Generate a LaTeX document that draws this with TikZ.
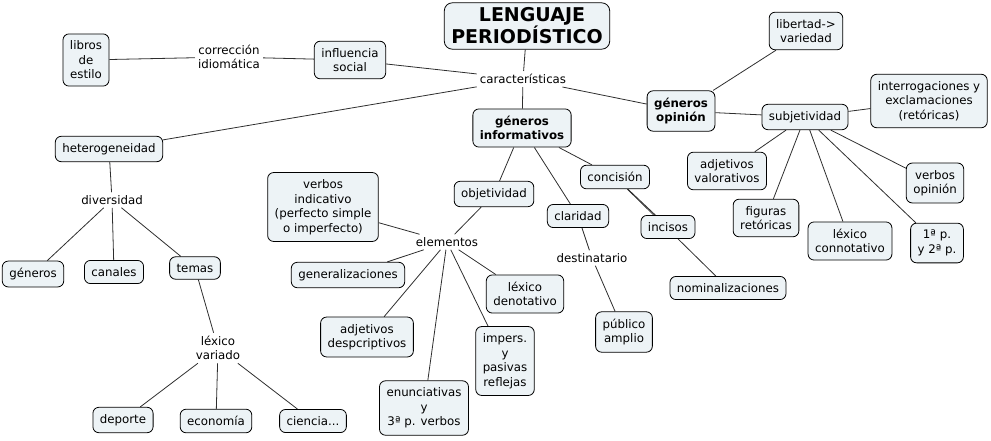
\documentclass[tikz,border=0pt]{standalone}
\usepackage{fontspec}
\setmainfont{DejaVu Sans}
\usetikzlibrary{positioning,backgrounds}
\definecolor{boxfill}{HTML}{EDF3F6}
\definecolor{linea}{HTML}{2E2E2E}

\tikzset{
  caja/.style={draw=black, fill=boxfill, rounded corners=6pt, align=center,
    inner xsep=7pt, inner ysep=7pt, line width=0.8pt},
  enlace/.style={align=center, inner sep=3pt},
  conector/.style={draw=linea, line width=0.8pt},
}

\begin{document}
\begin{tikzpicture}[x=1pt, y=-1pt, font=\fontsize{11.8}{14.5}\selectfont]
\useasboundingbox (0,0) rectangle (991,440);
% titulo y caracteristicas
\node[caja, rounded corners=8pt, inner xsep=7pt, inner ysep=5pt,
  font=\fontsize{19}{22}\selectfont\bfseries] (leng) at (527,26) {\hspace*{10pt}LENGUAJE\\PERIODÍSTICO};
\node[enlace] (carac) at (523,79) {características};
\node[caja] (influ) at (350,60) {influencia\\social};
\node[enlace] (correc) at (229,57) {corrección\\idiomática};
\node[caja] (libros) at (86,60) {libros\\de\\estilo};
% heterogeneidad
\node[caja] (hetero) at (109,149) {heterogeneidad};
\node[enlace] (divers) at (112,200) {diversidad};
\node[caja] (generos) at (33,274) {géneros};
\node[caja] (canales) at (114,272) {canales};
\node[caja] (temas) at (195,268) {temas};
\node[enlace] (lexvar) at (218,348) {léxico\\variado};
\node[caja] (deporte) at (123,420) {deporte};
\node[caja] (econ) at (216,421) {economía};
\node[caja] (ciencia) at (313,421) {ciencia...};
% generos informativos
\node[caja, font=\fontsize{11.8}{14.5}\selectfont\bfseries] (ginf) at (522,128) {géneros\\informativos};
\node[caja] (objet) at (494,194) {objetividad};
\node[enlace] (elem) at (447,242) {elementos};
\node[caja] (verbind) at (323,207) {verbos\\indicativo\\(perfecto simple\\o imperfecto)};
\node[caja] (general) at (348,275) {generalizaciones};
\node[caja] (adjdesc) at (367,337) {adjetivos\\despcriptivos};
\node[caja] (enunc) at (424,408) {enunciativas\\y\\3ª p. verbos};
\node[caja] (impers) at (505,361) {impers.\\y\\pasivas\\reflejas};
\node[caja] (lexden) at (525,294) {léxico\\denotativo};
\node[caja] (clar) at (578,216) {claridad};
\node[enlace] (destin) at (592,258) {destinatario};
\node[caja] (publico) at (624,332) {público\\amplio};
\node[caja] (conc) at (615,177) {concisión};
\node[caja] (incisos) at (668,227) {incisos};
\node[caja] (nomin) at (728,288) {nominalizaciones};
% generos opinion
\node[caja, font=\fontsize{11.8}{14.5}\selectfont\bfseries] (gop) at (681,111) {géneros\\opinión};
\node[caja] (libert) at (806,31) {libertad->\\variedad};
\node[caja] (subj) at (805,117) {subjetividad};
\node[caja] (interr) at (929,101) {interrogaciones y\\exclamaciones\\(retóricas)};
\node[caja] (adjval) at (727,171) {adjetivos\\valorativos};
\node[caja] (figuras) at (766,218) {figuras\\retóricas};
\node[caja] (lexcon) at (850,241) {léxico\\connotativo};
\node[caja] (verbop) at (935,183) {verbos\\opinión};
\node[caja] (primera) at (937,243) {1ª p.\\y 2ª p.};
% conectores
\begin{scope}[on background layer]
\foreach \a/\b in {leng/carac, carac/influ, influ/correc, correc/libros,
  carac/hetero, carac/ginf, carac/gop, hetero/divers, divers/generos,
  divers/canales, divers/temas, temas/lexvar, lexvar/deporte, lexvar/econ,
  lexvar/ciencia, ginf/objet, ginf/clar, ginf/conc, objet/elem,
  elem/verbind, elem/general, elem/adjdesc, elem/enunc, elem/impers,
  elem/lexden, clar/destin, destin/publico, conc/incisos, conc/nomin,
  gop/libert, gop/subj, subj/interr, subj/adjval, subj/figuras,
  subj/lexcon, subj/primera, subj/verbop}{
  \draw[conector] (\a) -- (\b);
}
\end{scope}
\end{tikzpicture}
\end{document}
